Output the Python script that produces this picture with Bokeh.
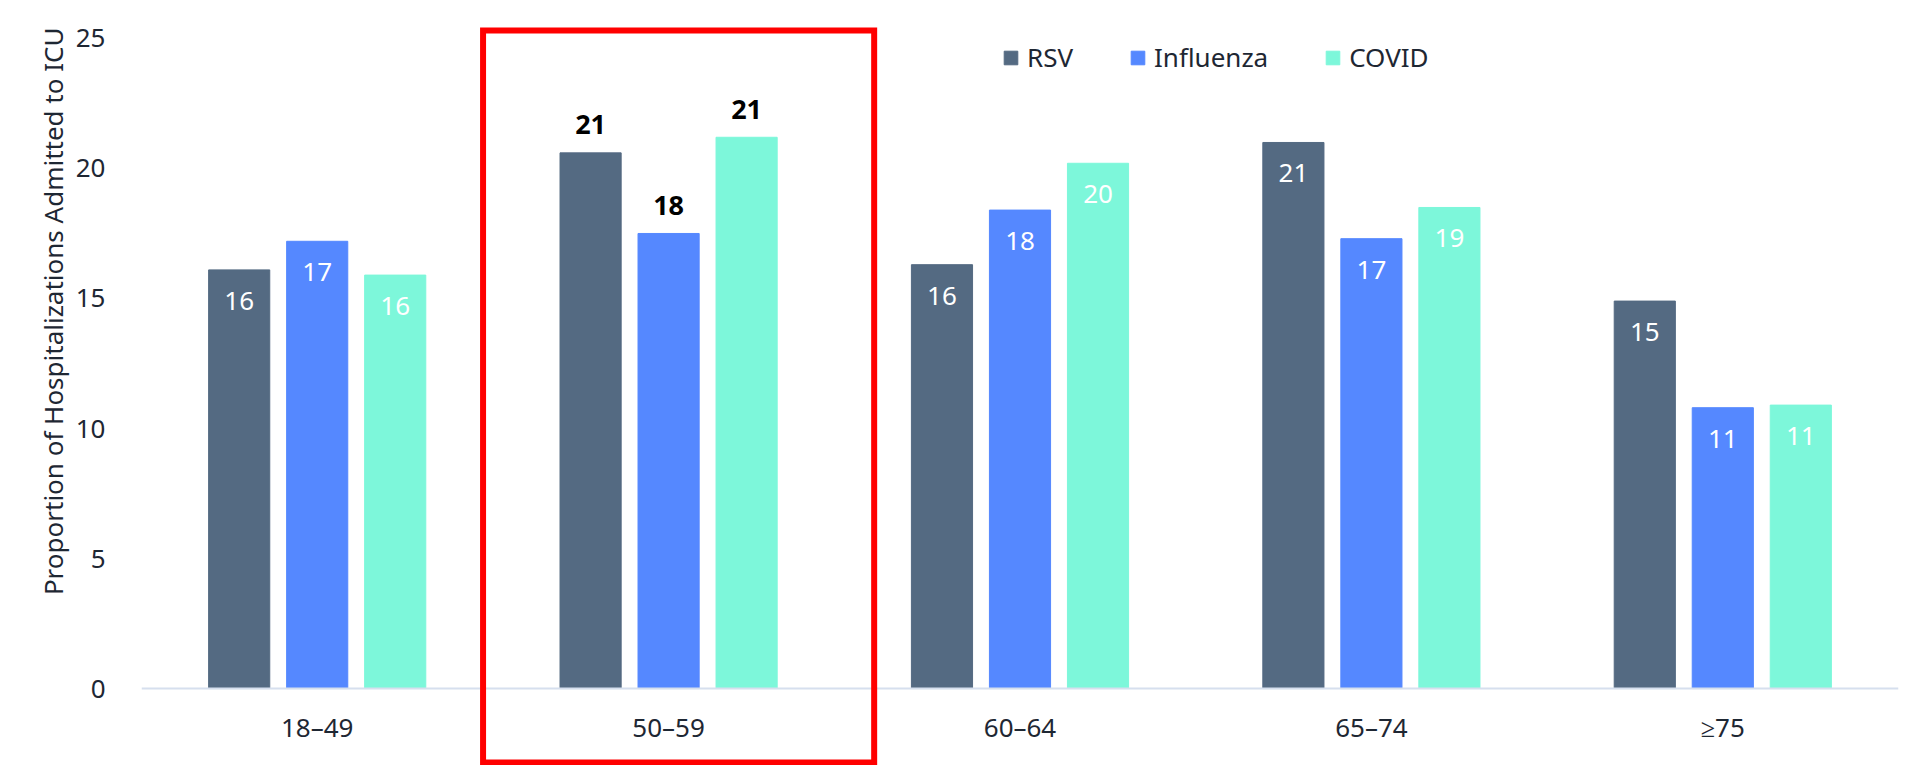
import math
from bokeh.plotting import figure
from bokeh.models import (ColumnDataSource, FactorRange, Range1d, FixedTicker, Legend,
                          LegendItem, BoxAnnotation, Span, Title)
from bokeh.transform import dodge
from bokeh.core.properties import value
from bokeh.embed import file_html
from bokeh.resources import INLINE

# ---- data ----
age_groups = ["18\u201349", "50\u201359", "60\u201364", "65\u201374", "\u226575"]
series_names = ["RSV", "Influenza", "COVID"]
rsv = [16.1, 20.6, 16.3, 21.0, 14.9]
influenza = [17.2, 17.5, 18.4, 17.3, 10.8]
covid = [15.9, 21.2, 20.2, 18.5, 10.9]
highlight_group = "50\u201359"
y_ticks = [0, 5, 10, 15, 20, 25]
y_title = "Proportion of Hospitalizations Admitted to ICU"

colors = ["#546A82", "#5588FF", "#7DF7DA"]
FONT = "Noto Sans"
TEXT_COLOR = "#1E2733"

def lab(v):
    return str(int(math.floor(v + 0.5)))

# frame extends below the zero line so the highlight box can reach the category labels
p = figure(x_range=FactorRange(*age_groups, range_padding=0),
           y_range=Range1d(-2.96, 25.46),
           width=1927, height=765, output_backend="svg", toolbar_location=None,
           min_border_left=141, min_border_right=29, min_border_top=26, min_border_bottom=0)
p.outline_line_color = None
p.xgrid.grid_line_color = None
p.ygrid.grid_line_color = None
p.background_fill_color = "white"
p.border_fill_color = "white"

offsets = [-0.222, 0.0, 0.222]
series_vals = [rsv, influenza, covid]
legend_items = []
for name, vals, off, col in zip(series_names, series_vals, offsets, colors):
    hl = [g == highlight_group for g in age_groups]
    src = ColumnDataSource(dict(
        x=age_groups, top=vals,
        lab_in=["" if h else lab(v) for v, h in zip(vals, hl)],
        lab_out=[lab(v) if h else "" for v, h in zip(vals, hl)],
    ))
    r = p.vbar(x=dodge("x", off, range=p.x_range), top="top", bottom=0, width=0.174,
               source=src, fill_color=col, line_color=col)
    legend_items.append(LegendItem(label=name, renderers=[r]))
    p.text(x=dodge("x", off, range=p.x_range), y="top", text="lab_in", source=src,
           text_align="center", text_baseline="middle", y_offset=31,
           text_color="white", text_font=value(FONT), text_font_size="26px")
    p.text(x=dodge("x", off, range=p.x_range), y="top", text="lab_out", source=src,
           text_align="center", text_baseline="middle", y_offset=-28,
           text_color="black", text_font=value(FONT), text_font_size="27px",
           text_font_style="bold")

# x "axis": baseline + category labels under the zero line
p.xaxis.visible = False
p.add_layout(Span(location=0, dimension="width", line_color="#D6DFEE", line_width=2))
cat_src = ColumnDataSource(dict(x=age_groups, y=[0] * len(age_groups), t=age_groups))
p.text(x="x", y="y", text="t", source=cat_src, text_align="center",
       text_baseline="middle", y_offset=38, text_color=TEXT_COLOR,
       text_font=value(FONT), text_font_size="26px")

# y axis
p.yaxis.ticker = FixedTicker(ticks=y_ticks)
p.yaxis.axis_line_color = None
p.yaxis.major_tick_line_color = None
p.yaxis.minor_tick_line_color = None
p.yaxis.major_label_text_font = FONT
p.yaxis.major_label_text_font_size = "26px"
p.yaxis.major_label_text_color = TEXT_COLOR
p.yaxis.major_label_standoff = 30
p.add_layout(Title(text=y_title, align="right", offset=1, text_font=FONT,
                   text_font_size="26px", text_font_style="normal",
                   text_color=TEXT_COLOR, standoff=3), "left")

legend = Legend(items=legend_items, orientation="horizontal", location=(861, 690),
                padding=0, margin=0, spacing=56, label_standoff=8,
                glyph_width=17, glyph_height=17,
                label_text_font=FONT, label_text_font_size="26px",
                label_text_color=TEXT_COLOR,
                border_line_alpha=0, background_fill_alpha=0)
p.add_layout(legend)

# highlight box around the 50–59 group (categorical synthetic coords)
box = BoxAnnotation(left=0.972, right=2.085, bottom=-2.84, top=25.31, level="overlay",
                    fill_alpha=0, line_color="#FF0000", line_alpha=1.0, line_width=6,
                    line_join="miter")
p.add_layout(box)

open("out.html", "w").write(file_html(p, INLINE))
